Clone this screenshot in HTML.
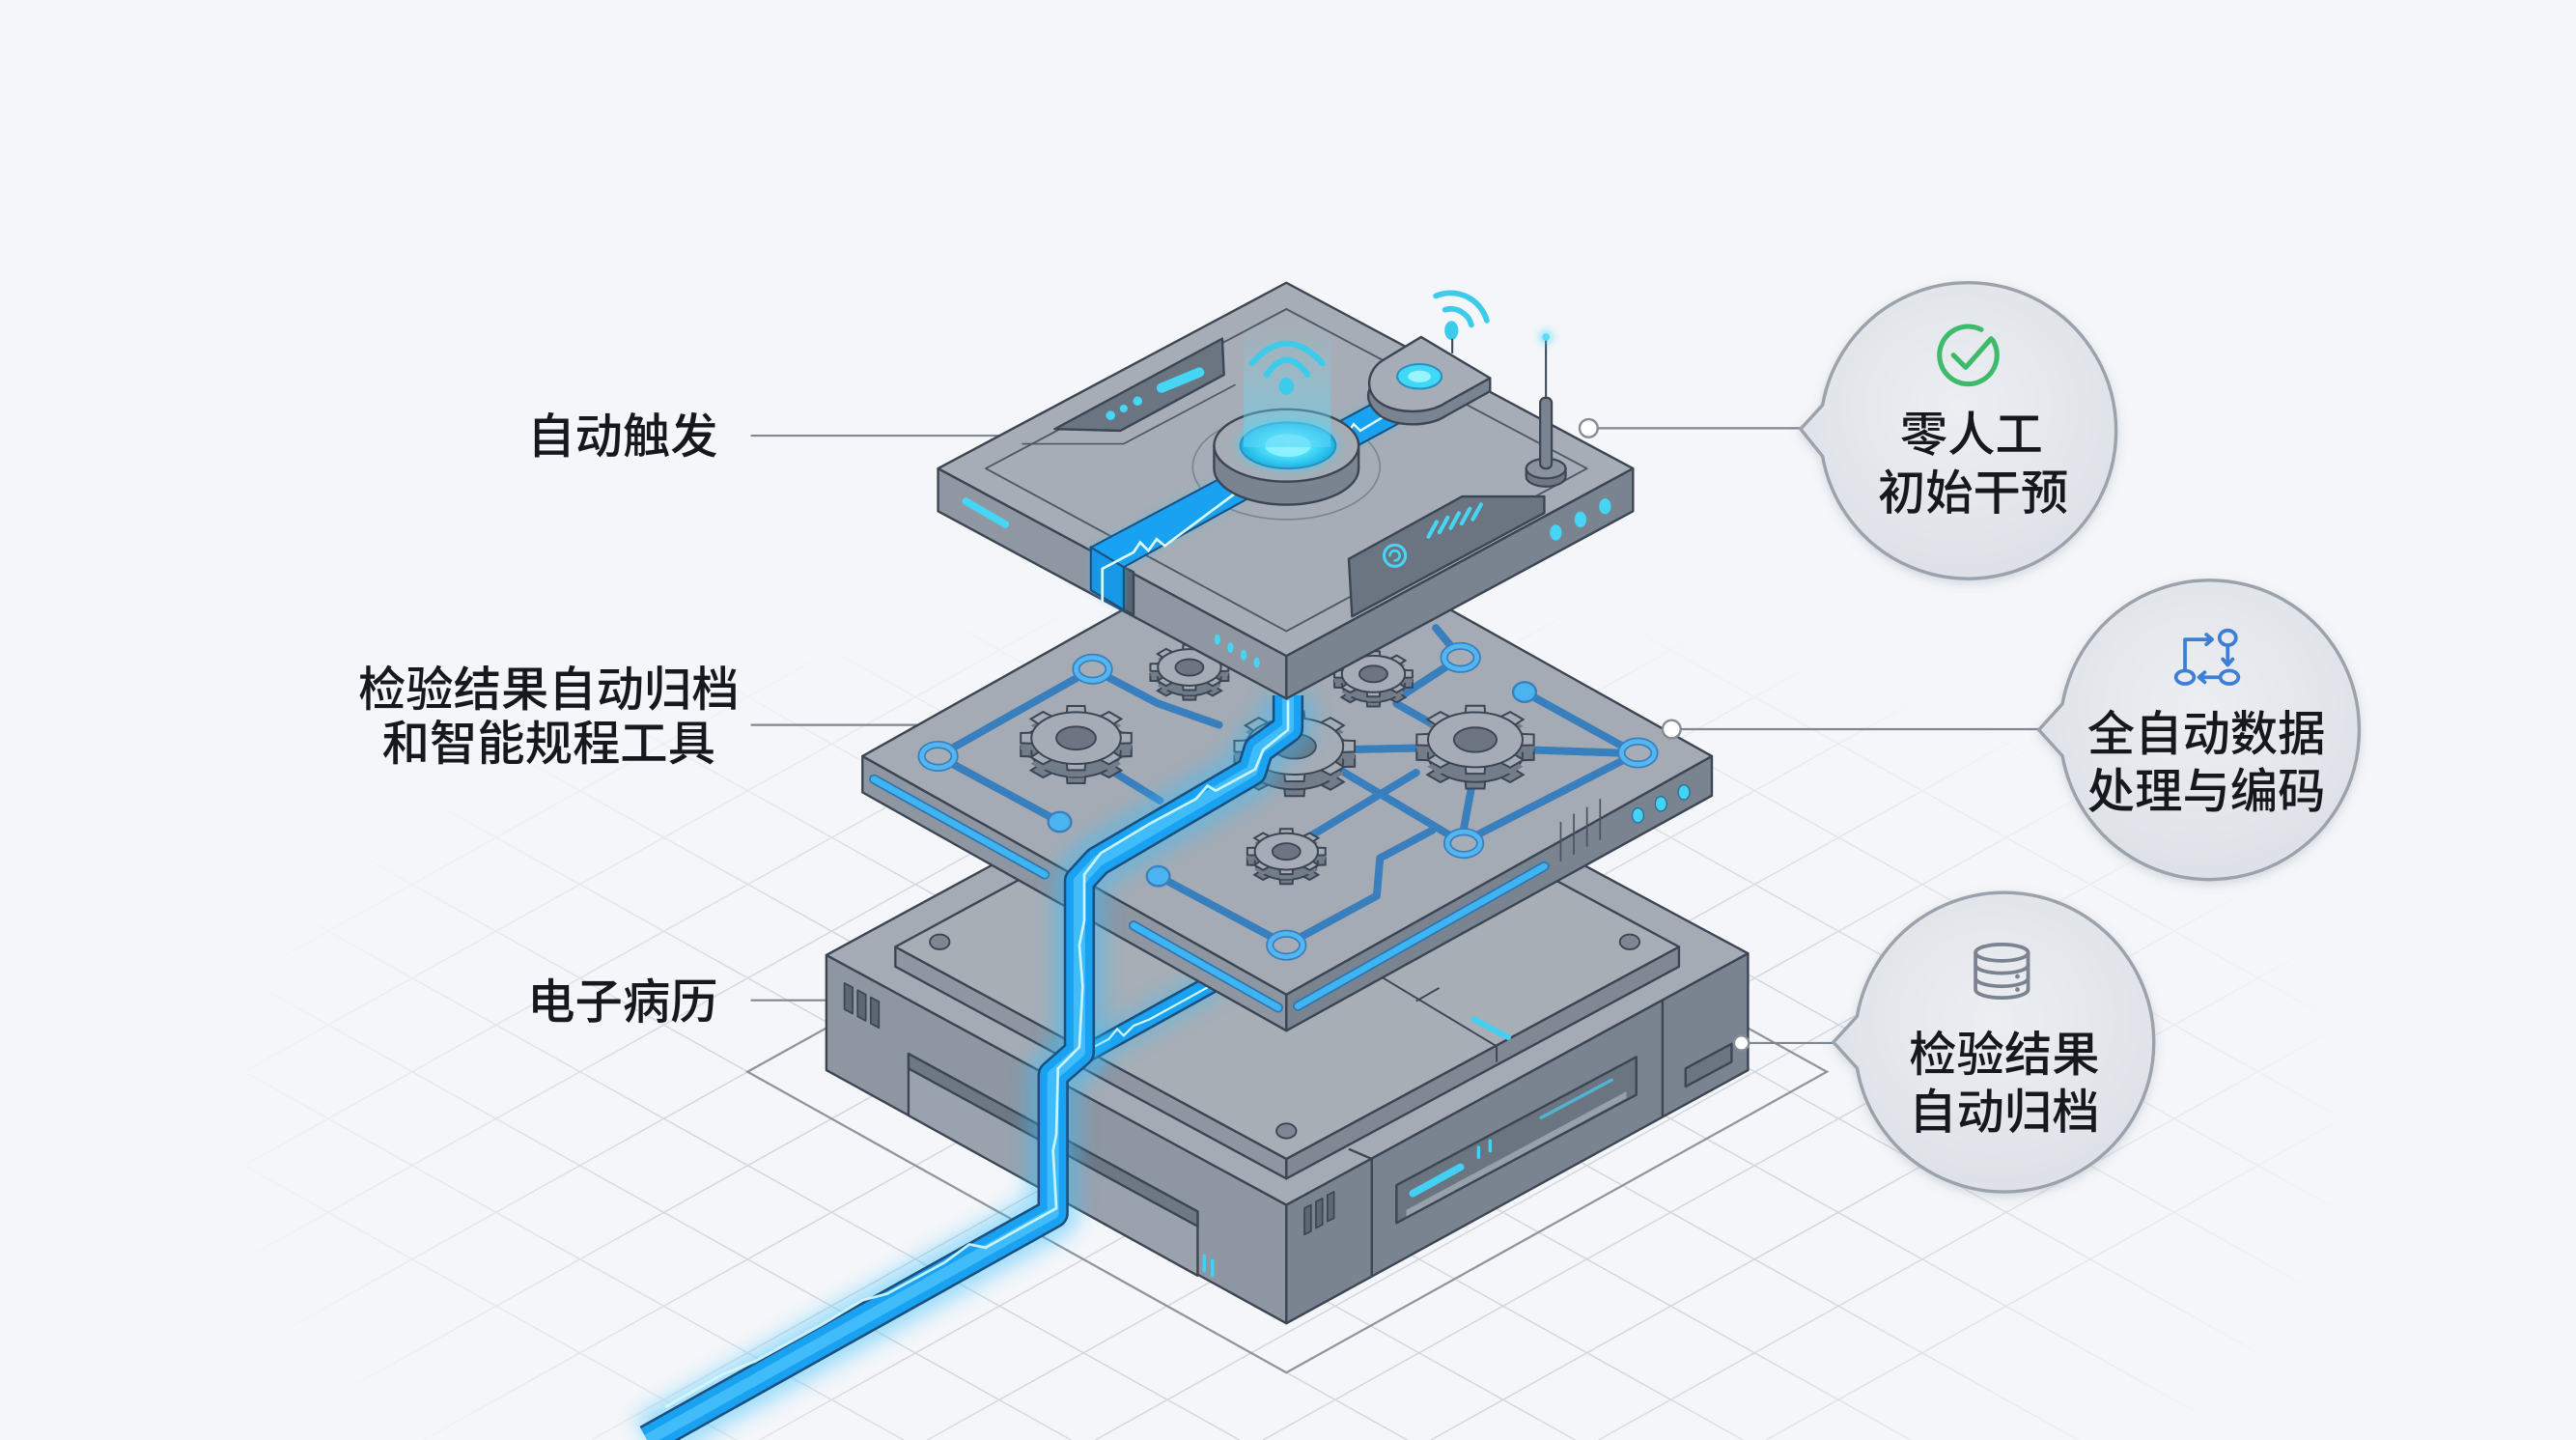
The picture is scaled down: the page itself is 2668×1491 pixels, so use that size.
<!DOCTYPE html>
<html><head><meta charset="utf-8">
<style>
html,body{margin:0;padding:0;background:#f4f6f9;width:2668px;height:1491px;overflow:hidden;}
svg{display:block;overflow:hidden;}
text{font-family:"Liberation Sans","Noto Sans CJK SC",sans-serif;font-weight:500;fill:#15191e;}
</style></head><body>
<svg xmlns="http://www.w3.org/2000/svg" xmlns:xlink="http://www.w3.org/1999/xlink" width="2668" height="1491" viewBox="0 0 1568 876" preserveAspectRatio="none">
<defs>
  <radialGradient id="gridfade" cx="783" cy="690" r="660" gradientUnits="userSpaceOnUse" gradientTransform="translate(783,690) scale(1,0.5) translate(-783,-690)">
    <stop offset="0" stop-color="#fff"/><stop offset="0.55" stop-color="#fff"/><stop offset="1" stop-color="#000"/>
  </radialGradient>
  <mask id="gm" maskUnits="userSpaceOnUse" x="0" y="0" width="1568" height="876"><rect width="1568" height="876" fill="url(#gridfade)"/></mask>
  <radialGradient id="cf" cx="50%" cy="42%" r="60%"><stop offset="0" stop-color="#eceef2"/><stop offset="1" stop-color="#dde1e7"/></radialGradient>
  <radialGradient id="btn" cx="50%" cy="50%" r="50%"><stop offset="0" stop-color="#c9fdff"/><stop offset="0.45" stop-color="#52e2fb"/><stop offset="1" stop-color="#1bb3e6"/></radialGradient>
  <linearGradient id="beam" x1="0" y1="0" x2="0" y2="1"><stop offset="0" stop-color="#7fe3fa" stop-opacity="0"/><stop offset="1" stop-color="#5cd6f6" stop-opacity="0.6"/></linearGradient>
  <filter id="blur6" x="-50%" y="-50%" width="200%" height="200%"><feGaussianBlur stdDeviation="6"/></filter>
  <filter id="blur3" x="-80%" y="-80%" width="260%" height="260%"><feGaussianBlur stdDeviation="2.5"/></filter>
  <filter id="shadow" x="-20%" y="-20%" width="140%" height="140%"><feDropShadow dx="0" dy="2" stdDeviation="3" flood-color="#6e7a8a" flood-opacity="0.25"/></filter>
  <path id="tooth" d="M0.74,-0.17 L0.99,-0.155 L0.99,0.155 L0.74,0.17Z" vector-effect="non-scaling-stroke"/>
  <g id="gear">
    <use href="#tooth"/><use href="#tooth" transform="rotate(45)"/><use href="#tooth" transform="rotate(90)"/><use href="#tooth" transform="rotate(135)"/>
    <use href="#tooth" transform="rotate(180)"/><use href="#tooth" transform="rotate(225)"/><use href="#tooth" transform="rotate(270)"/><use href="#tooth" transform="rotate(315)"/>
    <circle r="0.8" vector-effect="non-scaling-stroke"/>
  </g>
  <path id="ch" d="M784,423 L784,443 L766,456 L762,469 L668,524 L657,536 L657,640 L641,654 L641,738 L394,876"/>
</defs>

<rect width="1568" height="876" fill="#f4f6f9"/>

<!-- faint ground grid -->
<g mask="url(#gm)" stroke="#d3d8de" stroke-width="0.9" fill="none">
  <path d="M150,709.7L448,876M150,652.7L550,876M150,595.7L652,876M150,538.7L754.5,876M150,481.7L856.6,876M150,424.7L958.8,876M150,367.7L1061,876M150,310.7L1163,876M150,253.7L1265,876M150,196.7L1367,876M150,139.7L1420,848.4M150,82.7L1420,791.4M150,25.7L1420,734.4M206,0L1420,677.4M308,0L1420,620.4M410,0L1420,563.4M512.5,0L1420,506.4"/>
  <path d="M150,423.3L908.6,0M150,480.3L1010.8,0M150,537.3L1112.9,0M150,594.3L1215,0M150,651.3L1317,0M150,708.3L1419.4,0M150,765.3L1420,56.6M150,822.3L1420,113.6M156,876L1420,170.6M258,876L1420,227.6M360,876L1420,284.6M462.4,876L1420,341.6M564.5,876L1420,398.6M666.7,876L1420,455.6M768.8,876L1420,512.6M871,876L1420,569.6M973,876L1420,626.6M1075,876L1420,683.6"/>
</g>
<polygon points="455,652 783,470 1112,652 783,835" fill="none" stroke="#8d949d" stroke-width="1.3"/>

<!-- left labels -->
<g stroke="#7f8791" stroke-width="1.3">
  <line x1="457" y1="265" x2="609" y2="265"/>
  <line x1="457" y1="441" x2="561" y2="441"/>
  <line x1="457" y1="608.5" x2="503" y2="608.5"/>
</g>
<text x="437" y="275.5" font-size="29" text-anchor="end">自动触发</text>
<text x="334" y="429.5" font-size="29" text-anchor="middle">检验结果自动归档</text>
<text x="334" y="462.5" font-size="29" text-anchor="middle">和智能规程工具</text>
<text x="437" y="619.5" font-size="29" text-anchor="end">电子病历</text>

<!-- ============ BOTTOM BLOCK ============ -->
<g stroke="#3b4553" stroke-width="1.4" stroke-linejoin="round">
  <polygon points="503,581 783,733 783,805 503,651" fill="#8e96a2"/>
  <polygon points="783,733 1064,580 1064,651 783,805" fill="#7a8390"/>
  <polygon points="503,581 783,429 1064,580 783,733" fill="#a4abb4"/>
  <polygon points="553,641 729,737 729,776 553,678.6" fill="#9aa2ad"/>
  <polygon points="553,641 729,737 729,746 553,650" fill="#6e7784"/>
  <g fill="#5d6673" stroke-width="1">
    <polygon points="514,598 519,600.7 519,616.7 514,614"/>
    <polygon points="522,602.3 527,605 527,621 522,618.3"/>
    <polygon points="530,606.6 535,609.3 535,625.3 530,622.6"/>
  </g>
  <line x1="835" y1="705" x2="835" y2="777"/>
  <line x1="1012" y1="608" x2="1012" y2="680"/>
  <line x1="821" y1="699" x2="835" y2="705"/>
  <polygon points="850,721 996,643 996,666 850,744" fill="#6b7481"/>
  <polygon points="856,736 990,664 990,668 856,740" fill="#97a0ab" stroke="none"/>
  <polygon points="1026,650 1054,635 1054,646 1026,661" fill="#6b7481"/>
  <g fill="#5d6673" stroke-width="1">
    <polygon points="794,735 798,733 798,749 794,751"/>
    <polygon points="801,731 805,729 805,745 801,747"/>
    <polygon points="808,727 812,725 812,741 808,743"/>
  </g>
  <polygon points="545,576 783,705 783,717 545,588" fill="#8e96a1"/>
  <polygon points="783,705 1022,576 1022,588 783,717" fill="#7f8893"/>
  <polygon points="545,576 783,447 1022,576 783,705" fill="#a7aeb6"/>
  <line x1="842" y1="595" x2="911" y2="636.5" stroke-width="1.1"/>
  <line x1="911" y1="636.5" x2="911" y2="646" stroke-width="1.1"/>
  <line x1="862" y1="609" x2="876" y2="601" stroke-width="1.1"/>
  <ellipse cx="572" cy="573" rx="6" ry="4.5" fill="#7d8692" stroke-width="1.1"/>
  <ellipse cx="992" cy="573" rx="6" ry="4.5" fill="#7d8692" stroke-width="1.1"/>
  <ellipse cx="783" cy="688" rx="6" ry="4.5" fill="#7d8692" stroke-width="1.1"/>
</g>
<g stroke="#43d1f3" stroke-linecap="round" fill="none">
  <line x1="860" y1="726" x2="889" y2="710" stroke-width="4.5"/>
  <line x1="938" y1="680" x2="981" y2="657" stroke-width="2" opacity="0.7"/>
  <line x1="900" y1="704" x2="900" y2="698" stroke-width="2"/>
  <line x1="907" y1="700" x2="907" y2="694" stroke-width="2"/>
  <line x1="897" y1="620" x2="918" y2="631" stroke-width="3.5"/>
  <line x1="733" y1="764" x2="733" y2="773" stroke-width="2"/>
  <line x1="738" y1="767" x2="738" y2="776" stroke-width="2"/>
</g>
<line x1="650" y1="647" x2="742" y2="596" stroke="#33bfff" stroke-width="18" opacity="0.4" filter="url(#blur6)"/>
<line x1="650" y1="647" x2="742" y2="596" stroke="#1c4f7d" stroke-width="12"/>
<line x1="650" y1="647" x2="742" y2="596" stroke="#1aa2f2" stroke-width="9"/>
<polyline points="656,642 675,632 680,626 684,630 690,624 700,620 738,599" fill="none" stroke="#d6f8ff" stroke-width="1.3"/>

<!-- ============ MIDDLE LAYER ============ -->
<g stroke="#3b4553" stroke-width="1.4" stroke-linejoin="round">
  <polygon points="525,460 783,605 783,627 525,482" fill="#8e96a2"/>
  <polygon points="783,605 1042,460 1042,484 783,627" fill="#7a8390"/>
  <polygon points="525,460 783,315 1042,460 783,605" fill="#a4abb4"/>
</g>
<g stroke-linecap="round" fill="none">
  <line x1="532" y1="474" x2="636" y2="532" stroke="#2f74ae" stroke-width="6"/>
  <line x1="532" y1="474" x2="636" y2="532" stroke="#3fb4f2" stroke-width="4"/>
  <line x1="690" y1="563" x2="778" y2="613" stroke="#2f74ae" stroke-width="6"/>
  <line x1="690" y1="563" x2="778" y2="613" stroke="#3fb4f2" stroke-width="4"/>
  <line x1="790" y1="612" x2="940" y2="527" stroke="#2f74ae" stroke-width="6"/>
  <line x1="790" y1="612" x2="940" y2="527" stroke="#3fb4f2" stroke-width="4"/>
</g>
<g stroke="#4a5461" stroke-width="1">
  <line x1="950" y1="500" x2="950" y2="524"/><line x1="958" y1="495" x2="958" y2="520"/><line x1="966" y1="491" x2="966" y2="515"/><line x1="974" y1="486" x2="974" y2="511"/>
</g>
<g fill="#45d3f3" stroke="#2a6f99" stroke-width="0.8">
  <ellipse cx="997" cy="496" rx="3.5" ry="4.5"/><ellipse cx="1011" cy="489" rx="3.5" ry="4.5"/><ellipse cx="1025" cy="482" rx="3.5" ry="4.5"/>
</g>
<!-- circuit traces -->
<g fill="none" stroke-linecap="round" stroke-linejoin="round">
  <path id="traces" d="M571,460 L665,407 M571,460 L645,500 M665,407 L705,428 L742,441 M672,466 L706,487 M874,382 L889,400 M889,400 L852,424 M850,428 L878,444 M928,421 L995,458 M925,456 L986,458 M818,456 L866,455 M897,472 L891,504 M899,508 L987,463 M815,468 L884,509 M862,470 L797,509 M705,533 L776,571 M790,571 L838,545 L840,522 L872,505" stroke="#3a7fbd" stroke-width="4.6"/>
  <use href="#traces" stroke="#52b6f0" stroke-width="3"/>
</g>
<!-- gears -->
<g>
  <use href="#gear" transform="translate(655,457) scale(34,19.7)" fill="#737c89" stroke="#3b4553" stroke-width="2"/>
  <use href="#gear" transform="translate(655,453) scale(34,19.7)" fill="#737c89" stroke="none"/>
  <use href="#gear" transform="translate(655,449) scale(34,19.7)" fill="#a5acb5" stroke="#3b4553" stroke-width="2"/>
  <ellipse cx="655" cy="449" rx="12" ry="7" fill="#6c7581" stroke="#3b4553" stroke-width="1.1"/>
  <use href="#gear" transform="translate(724,412) scale(24,13.9)" fill="#737c89" stroke="#3b4553" stroke-width="2"/>
  <use href="#gear" transform="translate(724,409) scale(24,13.9)" fill="#737c89" stroke="none"/>
  <use href="#gear" transform="translate(724,406) scale(24,13.9)" fill="#a5acb5" stroke="#3b4553" stroke-width="2"/>
  <ellipse cx="724" cy="406" rx="8.5" ry="5" fill="#6c7581" stroke="#3b4553" stroke-width="1.1"/>
  <use href="#gear" transform="translate(836,416) scale(24,13.9)" fill="#737c89" stroke="#3b4553" stroke-width="2"/>
  <use href="#gear" transform="translate(836,413) scale(24,13.9)" fill="#737c89" stroke="none"/>
  <use href="#gear" transform="translate(836,410) scale(24,13.9)" fill="#a5acb5" stroke="#3b4553" stroke-width="2"/>
  <ellipse cx="836" cy="410" rx="8.5" ry="5" fill="#6c7581" stroke="#3b4553" stroke-width="1.1"/>
  <use href="#gear" transform="translate(788,463) scale(37,21.5)" fill="#737c89" stroke="#3b4553" stroke-width="2"/>
  <use href="#gear" transform="translate(788,458) scale(37,21.5)" fill="#737c89" stroke="none"/>
  <use href="#gear" transform="translate(788,454) scale(37,21.5)" fill="#a5acb5" stroke="#3b4553" stroke-width="2"/>
  <ellipse cx="788" cy="454" rx="13" ry="7.5" fill="#6c7581" stroke="#3b4553" stroke-width="1.1"/>
  <use href="#gear" transform="translate(898,459) scale(36,20.9)" fill="#737c89" stroke="#3b4553" stroke-width="2"/>
  <use href="#gear" transform="translate(898,454) scale(36,20.9)" fill="#737c89" stroke="none"/>
  <use href="#gear" transform="translate(898,450) scale(36,20.9)" fill="#a5acb5" stroke="#3b4553" stroke-width="2"/>
  <ellipse cx="898" cy="450" rx="13" ry="7.5" fill="#6c7581" stroke="#3b4553" stroke-width="1.1"/>
  <use href="#gear" transform="translate(783,524) scale(24,13.9)" fill="#737c89" stroke="#3b4553" stroke-width="2"/>
  <use href="#gear" transform="translate(783,521) scale(24,13.9)" fill="#737c89" stroke="none"/>
  <use href="#gear" transform="translate(783,518) scale(24,13.9)" fill="#a5acb5" stroke="#3b4553" stroke-width="2"/>
  <ellipse cx="783" cy="518" rx="8.5" ry="5" fill="#6c7581" stroke="#3b4553" stroke-width="1.1"/>
</g>
<g fill="#a6adb6" stroke="#3a7fbd" stroke-width="4.8">
  <ellipse cx="665" cy="407" rx="10" ry="7"/><ellipse cx="571" cy="460" rx="10" ry="7"/><ellipse cx="889" cy="400" rx="10" ry="7"/>
  <ellipse cx="997" cy="458" rx="10" ry="7"/><ellipse cx="891" cy="513" rx="10" ry="7"/><ellipse cx="783" cy="575" rx="10" ry="7"/>
</g>
<g fill="none" stroke="#52b6f0" stroke-width="2.8">
  <ellipse cx="665" cy="407" rx="10" ry="7"/><ellipse cx="571" cy="460" rx="10" ry="7"/><ellipse cx="889" cy="400" rx="10" ry="7"/>
  <ellipse cx="997" cy="458" rx="10" ry="7"/><ellipse cx="891" cy="513" rx="10" ry="7"/><ellipse cx="783" cy="575" rx="10" ry="7"/>
</g>
<g fill="#4bb3f0" stroke="#3a7fbd" stroke-width="1.4">
  <ellipse cx="645" cy="500" rx="7" ry="6"/><ellipse cx="928" cy="421" rx="7" ry="6"/><ellipse cx="705" cy="533" rx="7" ry="6"/>
</g>

<!-- ============ MAIN CHANNEL ============ -->
<g fill="none" stroke-linejoin="round" stroke-linecap="butt">
  <use href="#ch" stroke="#33bfff" stroke-width="32" opacity="0.45" filter="url(#blur6)"/>
  <use href="#ch" stroke="#1c4f7d" stroke-width="19"/>
  <use href="#ch" stroke="#1aa2f2" stroke-width="16"/>
  <use href="#ch" stroke="#5fd2ff" stroke-width="7" opacity="0.55"/>
  <path d="M784,426 L784,444 L769,456 L764,468 L740,481 L735,478 L728,486 L700,501 L670,519 L660,532 L660,560 L657,575 L659,600 L657,637 L644,650 L643,690 L641,700 L643,735 L600,759 L590,757 L575,768 L540,787 L525,791 L500,806 L460,828 L440,836 L405,856" stroke="#d6f8ff" stroke-width="1.6" opacity="0.9"/>
</g>

<!-- ============ TOP LAYER ============ -->
<g stroke="#3b4553" stroke-width="1.4" stroke-linejoin="round">
  <polygon points="571,285 783,399 783,425 571,311" fill="#8f97a3"/>
  <polygon points="783,399 994,285 994,311 783,425" fill="#7a8390"/>
  <polygon points="571,285 783,172 994,285 783,399" fill="#a6adb6"/>
  <polygon points="600,285 783,188 966,285 783,384" fill="none" stroke="#4f5966" stroke-width="1.1"/>
  <polyline points="622,270 684,270 752,234" fill="none" stroke="#4f5966" stroke-width="1"/>
  <polygon points="642,261 682,262 745,228 744,206" fill="#6b7481"/>
  <polygon points="821,340 890,302 940,302 940,312 823,375" fill="#6b7481"/>
  <polygon points="684,345 690,348 690,374 684,371" fill="#5a6370"/>
</g>
<g fill="#45d6f5" stroke="none">
  <line x1="707" y1="236" x2="730" y2="226.5" stroke="#45d6f5" stroke-width="6" stroke-linecap="round"/>
  <circle cx="676" cy="252.7" r="2.8"/><circle cx="684" cy="248.5" r="2.4"/><circle cx="692.5" cy="244" r="2.8"/>
  <line x1="588" y1="305" x2="612" y2="319" stroke="#45d6f5" stroke-width="4.5" stroke-linecap="round"/>
  <ellipse cx="947" cy="324" rx="3.6" ry="4.8"/><ellipse cx="962" cy="316" rx="3.6" ry="4.8"/><ellipse cx="977" cy="308" rx="3.6" ry="4.8"/>
  <ellipse cx="741" cy="389" rx="1.8" ry="3.2"/><ellipse cx="749" cy="394" rx="1.8" ry="3.2"/><ellipse cx="757" cy="398.5" rx="1.8" ry="3.2"/><ellipse cx="765" cy="403" rx="1.8" ry="3.2"/>
</g>
<g fill="none" stroke="#45d6f5" stroke-width="2.4" stroke-linecap="round">
  <circle cx="849" cy="338" r="6.5" stroke-width="1.8"/>
  <path d="M846,338 a3,3 0 1 1 3,3" stroke-width="1.5"/>
  <line x1="869.5" y1="326.5" x2="874.5" y2="317.5"/>
  <line x1="876.2" y1="323.8" x2="881.2" y2="314.8"/>
  <line x1="883" y1="321.2" x2="888" y2="312.2"/>
  <line x1="889.7" y1="318.5" x2="894.7" y2="309.5"/>
  <line x1="896.5" y1="315.9" x2="901.5" y2="306.9"/>
</g>
<ellipse cx="783" cy="284" rx="57" ry="32" fill="none" stroke="#7d8692" stroke-width="1"/>
<g>
  <polygon points="664,333 741,292 760,303 684,345 684,371 664,359" fill="#33bfff" opacity="0.5" filter="url(#blur3)"/>
  <polygon points="795.7,267 845.7,240 854.3,256 804.3,283" fill="#33bfff" opacity="0.5" filter="url(#blur3)"/>
  <polygon points="664,333 741,292 760,303 684,345" fill="#1aa2f2" stroke="#1c4f7d" stroke-width="1.2"/>
  <polygon points="664,333 684,345 684,371 664,359" fill="#1797e6" stroke="#1c4f7d" stroke-width="1.2"/>
  <polygon points="795.7,267 845.7,240 854.3,256 804.3,283" fill="#1aa2f2" stroke="#1c4f7d" stroke-width="1.2"/>
  <path d="M671,366 L671,346 L690,336 L694,330 L699,335 L704,328 L709,332 L752,300" fill="none" stroke="#d9fbff" stroke-width="1.6"/>
  <path d="M806,272 L820,264 L824,258 L828,262 L848,250" fill="none" stroke="#d9fbff" stroke-width="1.4"/>
</g>
<g stroke="#3b4553" stroke-width="1.4">
  <path d="M739,271 L739,285 A44,22 0 0 0 827,285 L827,271 Z" fill="#7a8390"/>
  <ellipse cx="783" cy="271" rx="44" ry="22" fill="#a6adb6"/>
</g>
<ellipse cx="784" cy="271" rx="31" ry="15.5" fill="#3fd6f8" opacity="0.6" filter="url(#blur3)"/>
<ellipse cx="784" cy="271" rx="29" ry="14" fill="url(#btn)" stroke="#2a8fbf" stroke-width="1.2"/>
<ellipse cx="784" cy="271" rx="14" ry="7" fill="#8ef2ff" opacity="0.9"/>
<rect x="757" y="197" width="53" height="75" fill="url(#beam)"/>
<g fill="none" stroke="#3ccbea" stroke-width="3.6" stroke-linecap="round">
  <path d="M771,228 Q783,210 796,228"/>
  <path d="M762,221 Q783,197 805,221"/>
</g>
<ellipse cx="783" cy="235" rx="4.5" ry="5.2" fill="#3ccbea"/>
<g stroke="#3b4553" stroke-width="1.4" stroke-linejoin="round">
  <path d="M907,230 L907,238 L880,253 C870,260 848,260 839,252 C832,246 832,240 834,236 L842,219 Z" fill="#7a8390"/>
  <path d="M842,219 L865,205 L907,230 L880,245 C870,252 850,252 840,245 C830,238 832,225 842,219 Z" fill="#a6adb6"/>
</g>
<ellipse cx="864" cy="229" rx="13.5" ry="7.5" fill="#40d8f6" stroke="#2a8fbf" stroke-width="1.2"/>
<ellipse cx="864" cy="229" rx="7" ry="3.6" fill="#9af4ff"/>
<g fill="none" stroke="#3ccbea" stroke-width="3.4" stroke-linecap="round">
  <path d="M879.6,188.4 A13,13 0 0 1 895.6,197.6"/>
  <path d="M874,180 A23,23 0 0 1 905,195"/>
</g>
<ellipse cx="883.5" cy="201" rx="4.2" ry="5.8" fill="#3ccbea"/>
<line x1="884" y1="206" x2="884" y2="215" stroke="#3b4553" stroke-width="1.2"/>
<g stroke="#3b4553" stroke-width="1.3">
  <path d="M929,285 L929,290 A12,6 0 0 0 953,290 L953,285 Z" fill="#6f7884"/>
  <ellipse cx="941" cy="285" rx="12" ry="6" fill="#8a929e"/>
  <line x1="941" y1="205" x2="941" y2="244" stroke-width="1.2"/>
  <rect x="937.5" y="242" width="7" height="43" rx="3" fill="#7a8390"/>
</g>
<circle cx="941" cy="205" r="4" fill="#45d6f5" opacity="0.6" filter="url(#blur3)"/>
<circle cx="941" cy="205" r="2.2" fill="#55ddf7"/>

<!-- ============ CALLOUTS ============ -->
<g stroke="#7f8791" stroke-width="1.3">
  <line x1="967" y1="260.5" x2="1097" y2="260.5"/>
  <line x1="1017" y1="443.6" x2="1242" y2="443.6"/>
  <line x1="1060" y1="634.5" x2="1117" y2="634.5"/>
</g>
<g fill="#fff" stroke="#848c96" stroke-width="1.4">
  <circle cx="967" cy="260.5" r="5.5"/>
  <circle cx="1017.5" cy="443.6" r="5.5"/>
  <circle cx="1060" cy="634.5" r="4.5"/>
</g>
<g fill="url(#cf)" stroke="#9ba2ac" stroke-width="2" filter="url(#shadow)">
  <path d="M1109.4,246.4 A90,90 0 1 1 1109.4,277.6 L1096,261 Z"/>
  <path d="M1255.4,428.2 A91,91 0 1 1 1255.4,459.8 L1241,444 Z"/>
  <path d="M1130.4,618.2 A91,91 0 1 1 1130.4,649.8 L1116,634 Z"/>
</g>
<g fill="none" stroke="#3dba6b" stroke-width="3" stroke-linecap="round" stroke-linejoin="round">
  <path d="M1213,207 A17.5,17.5 0 1 1 1206,200.5"/>
  <path d="M1189,216 L1196.5,223.5 L1212,206"/>
</g>
<text x="1200" y="274.5" font-size="29" text-anchor="middle">零人工</text>
<text x="1201" y="310" font-size="29" text-anchor="middle">初始干预</text>
<g fill="none" stroke="#3d7fd4" stroke-width="2.2" stroke-linecap="round" stroke-linejoin="round">
  <ellipse cx="1356" cy="388" rx="5" ry="4.5"/>
  <ellipse cx="1330" cy="412" rx="5.5" ry="4"/>
  <ellipse cx="1357" cy="412" rx="5.5" ry="4"/>
  <path d="M1330,407 L1330,389 L1346,389"/>
  <path d="M1343,386 L1346.5,389 L1343,392"/>
  <path d="M1356,393 L1356,404 M1353,401 L1356,404.5 L1359,401"/>
  <path d="M1350,412 L1339,412 M1342,409 L1338.5,412 L1342,415"/>
</g>
<text x="1343" y="456.5" font-size="29" text-anchor="middle">全自动数据</text>
<text x="1343" y="491.5" font-size="29" text-anchor="middle">处理与编码</text>
<g fill="none" stroke="#7a838f" stroke-width="2.2" stroke-linecap="round">
  <ellipse cx="1218.5" cy="579.5" rx="16" ry="5"/>
  <path d="M1202.5,579.5 L1202.5,602 A16,5 0 0 0 1234.5,602 L1234.5,579.5"/>
  <path d="M1202.5,587 A16,5 0 0 0 1234.5,587"/>
  <path d="M1202.5,595 A16,5 0 0 0 1234.5,595"/>
</g>
<g fill="#7a838f"><circle cx="1228" cy="594" r="1.4"/><circle cx="1228" cy="602" r="1.4"/></g>
<text x="1220" y="651.5" font-size="29" text-anchor="middle">检验结果</text>
<text x="1220" y="686.5" font-size="29" text-anchor="middle">自动归档</text>
</svg>
</body></html>
